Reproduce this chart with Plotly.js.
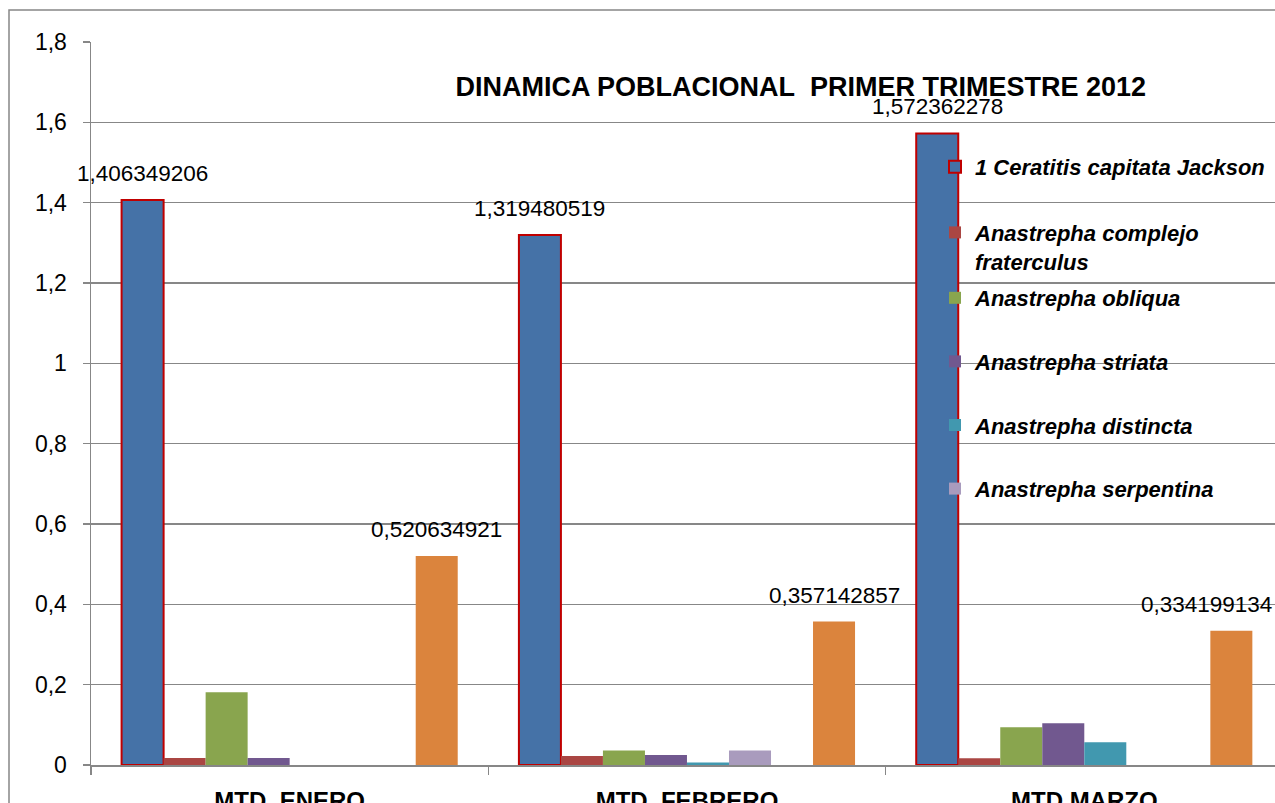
<!DOCTYPE html>
<html>
<head>
<meta charset="utf-8">
<script src="https://cdn.plot.ly/plotly-3.0.1.min.js"></script>
<style>html,body{margin:0;padding:0;overflow:hidden;background:#fff}</style>
</head>
<body>
<div id="chart" style="width:1275px;height:803px"></div>
<script>
// ---- data ----
const categories = ['MTD\u00a0 ENERO', 'MTD\u00a0 FEBRERO', 'MTD MARZO'];
const seriesNames = [
  '1 Ceratitis capitata Jackson',
  'Anastrepha complejo<br>fraterculus',
  'Anastrepha obliqua',
  'Anastrepha striata',
  'Anastrepha distincta',
  'Anastrepha serpentina',
  'Serie 7',
  'Serie 8'
];
const ceratitis   = [1.406349206, 1.319480519, 1.572362278];
const fraterculus = [0.0175, 0.0224, 0.0167];
const obliqua     = [0.181, 0.036, 0.094];
const striata     = [0.0175, 0.025, 0.104];
const distincta   = [0, 0.0065, 0.0564];
const serpentina  = [0, 0.036, 0];
const serie7      = [0, 0, 0];
const serie8      = [0.520634921, 0.357142857, 0.334199134];
const yTicks = [0, 0.2, 0.4, 0.6, 0.8, 1, 1.2, 1.4, 1.6, 1.8];
const title = 'DINAMICA POBLACIONAL\u00a0 PRIMER TRIMESTRE 2012';

// ---- style ----
const colors = ['#4572A7', '#AA4643', '#89A54E', '#71588F', '#4198AF', '#A99BBD', '#93A9CF', '#DB843D'];
const allSeries = [ceratitis, fraterculus, obliqua, striata, distincta, serpentina, serie7, serie8];
const labeled = [0, 7];
const FONT = '"Liberation Sans", Arial, sans-serif';
const W = 1275, H = 803;
const M = {l: 91, r: 0, t: 42, b: 38};
const xRange = [-0.5, 2.48];
const bargap = 0.154;
const grid = '#878787';
const plotW = W - M.l - M.r;
const plotH = H - M.t - M.b;
const px2y = py => (H - M.b - py) / plotH;
const px2x = px => (px - M.l) / plotW;

const traces = allSeries.map((vals, i) => ({
  type: 'bar',
  name: seriesNames[i],
  x: categories,
  y: vals,
  legend: i < 2 ? 'legend' : 'legend2',
  legendgroup: 'g' + i,
  showlegend: i < 6,
  marker: {
    color: colors[i],
    line: i === 0 ? {color: '#C00000', width: 2} : {width: 0}
  },
  hoverinfo: 'skip'
}));

// data labels as annotations above labeled bars
const catPx = plotW / (xRange[1] - xRange[0]);
const barPx = catPx * (1 - bargap) / allSeries.length;
const annotations = [];
labeled.forEach(i => {
  allSeries[i].forEach((v, j) => {
    annotations.push({
      x: categories[j], y: v, xref: 'x', yref: 'y',
      xshift: (i - (allSeries.length - 1) / 2) * barPx,
      yshift: 12, yanchor: 'bottom', xanchor: 'center',
      showarrow: false,
      text: String(v).replace('.', ','),
      font: {family: FONT, size: 22.5, color: '#000'}
    });
  });
});

const legendFont = {family: FONT, size: 22, color: '#000', weight: 'bold', style: 'italic'};
const layout = {
  width: W, height: H,
  margin: M,
  paper_bgcolor: '#fff', plot_bgcolor: '#fff',
  separators: ', ',
  barmode: 'group',
  bargap: bargap,
  bargroupgap: 0,
  title: {
    text: '<b>' + title + '</b>',
    font: {family: FONT, size: 27, color: '#000'},
    x: 0.628, xanchor: 'center', xref: 'container',
    y: 1 - 87 / H, yanchor: 'middle', yref: 'container'
  },
  xaxis: {
    type: 'category',
    range: xRange,
    tickson: 'boundaries',
    ticks: 'outside', ticklen: 8, tickwidth: 1.5, tickcolor: grid,
    showline: true, linecolor: grid, linewidth: 2,
    showgrid: false,
    tickfont: {family: FONT, size: 24, color: '#000', weight: 'bold'},
    ticklabelstandoff: 13,
    fixedrange: true
  },
  yaxis: {
    range: [0, 1.8],
    tickvals: yTicks,
    ticks: 'outside', ticklen: 7, tickwidth: 1.5, tickcolor: grid,
    showline: true, linecolor: grid, linewidth: 1.5,
    showgrid: true, gridcolor: grid, gridwidth: 1.5,
    zeroline: false,
    tickfont: {family: FONT, size: 23, color: '#000'},
    ticklabelstandoff: 11,
    fixedrange: true
  },
  legend: {
    x: px2x(935), xanchor: 'left',
    y: px2y(146), yanchor: 'top',
    bgcolor: 'rgba(0,0,0,0)', borderwidth: 0,
    traceorder: 'grouped', tracegroupgap: 34, valign: 'top',
    font: legendFont
  },
  legend2: {
    x: px2x(935), xanchor: 'left',
    y: px2y(277), yanchor: 'top',
    bgcolor: 'rgba(0,0,0,0)', borderwidth: 0,
    traceorder: 'grouped', tracegroupgap: 32, valign: 'top',
    font: legendFont
  },
  shapes: [{
    type: 'rect', xref: 'paper', yref: 'paper',
    x0: px2x(9), x1: px2x(W + 20),
    y0: px2y(H + 20), y1: px2y(10),
    line: {color: grid, width: 1.5}, fillcolor: 'rgba(0,0,0,0)', layer: 'below'
  }],
  annotations: annotations
};

Plotly.newPlot('chart', traces, layout, {displayModeBar: false, staticPlot: true}).then(gd => {
  // keep data labels inside the chart area (as the original does)
  const upd = {};
  gd.querySelectorAll('.annotation').forEach((el, k) => {
    const r = el.getBoundingClientRect();
    if (r.right > W - 1) {
      upd['annotations[' + k + '].xshift'] = annotations[k].xshift - (r.right - (W - 1));
    }
  });
  if (Object.keys(upd).length) Plotly.relayout(gd, upd);
});
</script>
</body>
</html>
